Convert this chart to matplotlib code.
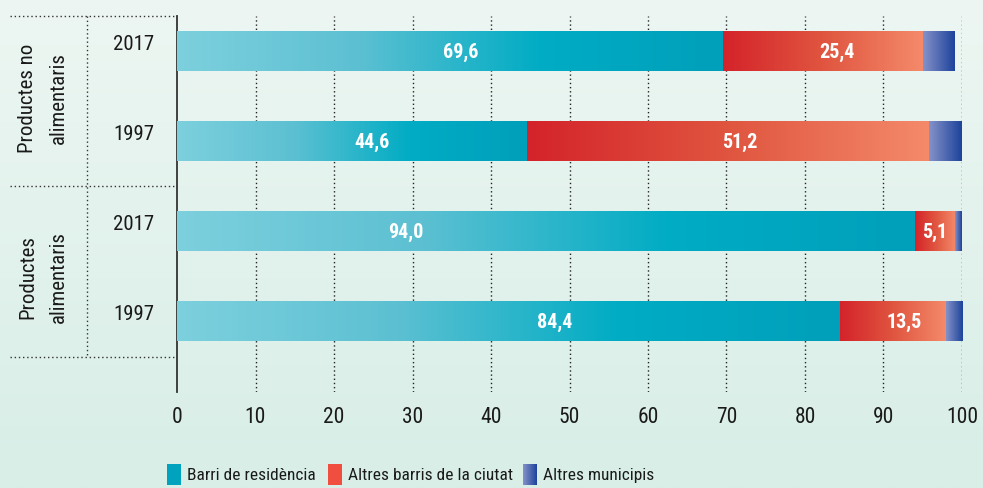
import numpy as np
import matplotlib
matplotlib.use("Agg")
import matplotlib.pyplot as plt
from matplotlib import font_manager as fm
from matplotlib.colors import LinearSegmentedColormap

# busca una font estreta
fam, stretch = "Liberation Sans", "normal"
for f in fm.fontManager.ttflist:
    if f.name in ("Liberation Sans Narrow", "Roboto Condensed"):
        fam, stretch = f.name, "normal"
        break
else:
    for f in fm.fontManager.ttflist:
        if f.name == "DejaVu Sans" and "Condensed" in f.fname:
            fam, stretch = "DejaVu Sans", "condensed"
            break
plt.rcParams['font.family'] = [fam, 'DejaVu Sans']
plt.rcParams['font.stretch'] = stretch

# dades
groups = ["Productes no\nalimentaris", "Productes\nalimentaris"]
years = ["2017", "1997", "2017", "1997"]
barri = [69.6, 44.6, 94.0, 84.4]
ciutat = [25.4, 51.2, 5.1, 13.5]
municipis = [4.0, 4.2, 0.8, 2.1]
series_names = ["Barri de residència", "Altres barris de la ciutat", "Altres municipis"]

# on va l'etiqueta dins el segment (fraccio)
frac_barri = [0.52, 0.556, 0.31, 0.57]
frac_ciutat = [0.57, 0.53, 0.5, 0.61]

W, H = 983, 489
fig = plt.figure(figsize=(W / 100, H / 100), dpi=100)

# fons amb degradat
bg = fig.add_axes([0, 0, 1, 1], zorder=-10)
top = np.array([237, 246, 242]) / 255
bot = np.array([216, 238, 231]) / 255
grad = np.linspace(0, 1, 256)[:, None, None]
img = top * (1 - grad) + bot * grad
bg.imshow(np.repeat(img, 2, axis=1), aspect='auto', extent=[0, 1, 0, 1])
bg.axis('off')

x0, x1 = 177, 962
y_top, y_bot = 17, 393
ax = fig.add_axes([x0 / W, 1 - y_bot / H, (x1 - x0) / W, (y_bot - y_top) / H])
ax.set_facecolor('none')
step = 90.0

cm_blue = LinearSegmentedColormap.from_list("b", ["#7dd0dd", "#5cc0d2", "#00acc4", "#009fba"])
cm_red = LinearSegmentedColormap.from_list("r", ["#d4232a", "#e0553f", "#f48a6a"])
cm_mun = LinearSegmentedColormap.from_list("m", ["#8592c9", "#1d439b"])

h = 40 / step
g = np.linspace(0, 1, 256)[None, :]

def seg(left, width, y, cmap):
    if width <= 0:
        return
    ax.imshow(g, cmap=cmap, aspect='auto', extent=[left, left + width, y + h / 2, y - h / 2],
              zorder=3, interpolation='bilinear')

for i in range(4):
    seg(0, barri[i], i, cm_blue)
    seg(barri[i], ciutat[i], i, cm_red)
    seg(barri[i] + ciutat[i], municipis[i], i, cm_mun)
    ax.text(barri[i] * frac_barri[i], i, f"{barri[i]:.1f}".replace(".", ","),
            color='white', fontweight='bold', fontsize=14.5, ha='center', va='center', zorder=5)
    ax.text(barri[i] + ciutat[i] * frac_ciutat[i], i, f"{ciutat[i]:.1f}".replace(".", ","),
            color='white', fontweight='bold', fontsize=14.5, ha='center', va='center', zorder=5)
    ax.text(-5.5, i - 0.08, years[i], ha='center', va='center', fontsize=15, color='#1a1a1a')

ax.set_ylim(3 + (y_bot - 322) / step, -(52 - y_top) / step)
ax.set_xlim(0, 100)

for v in range(10, 101, 10):
    ax.axvline(v, color='#222222', lw=1, ls=(0, (1, 2)), zorder=1)

for s in ['top', 'right', 'bottom']:
    ax.spines[s].set_visible(False)
ax.spines['left'].set_color('#333333')
ax.spines['left'].set_linewidth(1.3)
ax.set_yticks([])
ax.set_xticks(range(0, 101, 10))
ax.tick_params(axis='x', length=0, labelsize=15.5, colors='#1a1a1a', pad=10)

# linies del marc de l'esquerra
px = 7.85
xl = (10 - x0) / px
yl = [(y_top - 52) / step, (187 - 52) / step, (358 - 52) / step]
for y in yl:
    ax.plot([xl, 0], [y, y], color='#333333', lw=1, ls=(0, (1, 2)), clip_on=False)
xv = (87 - x0) / px
ax.plot([xv, xv], [yl[0], yl[2]], color='#333333', lw=1, ls=(0, (1, 2)), clip_on=False)

gy = [(98 - 52) / step, (277 - 52) / step]
for k, gname in enumerate(groups):
    ax.text((43 - x0) / px, gy[k], gname, rotation=90, ha='center', va='center',
            fontsize=15, color='#1a1a1a', linespacing=1.75, clip_on=False)

# llegenda
leg_x = [167, 328, 523]
leg_col = [cm_blue(0.9), "#f04e3e", None]
for k, name in enumerate(series_names):
    lx = leg_x[k] / W
    la = fig.add_axes([lx, 1 - 486 / H, 14 / W, 21 / H])
    if k == 2:
        la.imshow(g, cmap=cm_mun, aspect='auto', extent=[0, 1, 0, 1])
    else:
        la.set_facecolor(leg_col[k])
    la.set_xticks([]); la.set_yticks([])
    for s in la.spines.values():
        s.set_visible(False)
    fig.text((leg_x[k] + 20) / W, 1 - 476 / H, name, fontsize=12.5, va='center', ha='left', color='#1a1a1a')

fig.savefig("out.png", dpi=100)
